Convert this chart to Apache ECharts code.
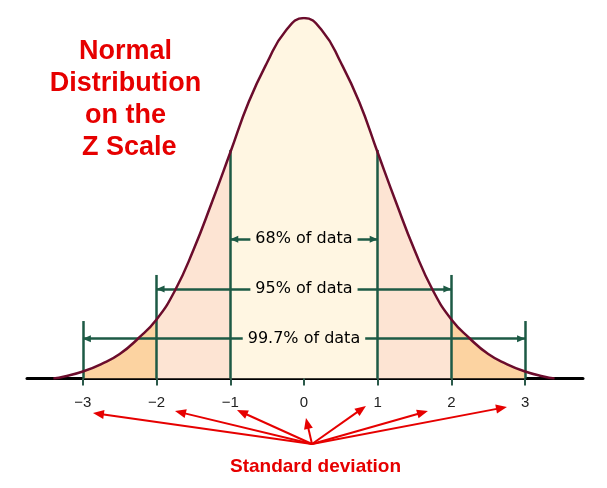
<!DOCTYPE html>
<html><head><meta charset="utf-8">
<script src="https://cdn.jsdelivr.net/npm/echarts@6/dist/echarts.min.js"></script>
<style>html,body{margin:0;padding:0;background:#fff}#c{width:607px;height:488px}</style>
</head><body><div id="c"></div>
<script>
// ---- data ----
const zValues = [-3.4,-3.25,-3,-2.75,-2.5,-2.25,-2,-1.75,-1.5,-1.25,-1,-0.75,-0.5,-0.25,0,0.25,0.5,0.75,1,1.25,1.5,1.75,2,2.25,2.5,2.75,3,3.25,3.4];
const curveDensity = [0,0.0022,0.0077,0.0160,0.0271,0.0443,0.0653,0.0974,0.1422,0.1948,0.2501,0.3060,0.3497,0.3846,0.399,0.3846,0.3497,0.3060,0.2501,0.1948,0.1422,0.0974,0.0653,0.0443,0.0271,0.0160,0.0077,0.0022,0];
const tickValues = [-3,-2,-1,0,1,2,3];
const bandEdges = [-3,-2,-1,1,2,3];
const guideTops = [0.0636,0.1146,0.2530,0.2530,0.1146,0.0636];
const coverageLabels = ['68% of data','95% of data','99.7% of data'];
const coverageHalfWidths = [1,2,3];
const coverageLevels = [0.1541,0.0991,0.0441];
const titleText = 'Normal\nDistribution\non the\n Z Scale';
const axisCaption = 'Standard deviation';

// ---- styles ----
const CREAM = '#fff6e2', PEACH = '#fde4d3', ORANGE = '#fcd3a1';
const MAROON = '#6b0c2c', GREEN = '#1d5a45', RED = '#e60000';

const pts = zValues.map((z, i) => [z, curveDensity[i]]);
function band(a, b) { return pts.filter(p => p[0] >= a - 1e-9 && p[0] <= b + 1e-9); }
function fill(a, b, color) {
  return { type: 'line', data: band(a, b), smooth: true, symbol: 'none', silent: true,
    lineStyle: { width: 0, opacity: 0 }, areaStyle: { color: color, opacity: 1 }, z: 1 };
}

const chart = echarts.init(document.getElementById('c'), null, { renderer: 'canvas' });
chart.setOption({
  animation: false,
  backgroundColor: '#ffffff',
  grid: { left: 27, right: 24, top: 18, bottom: 109.5, containLabel: false, outerBoundsMode: 'none' },
  xAxis: {
    type: 'value', min: -3.758, max: 3.786,
    splitLine: { show: false },
    axisLine: { onZero: false, lineStyle: { color: '#000', width: 3 } },
    axisTick: { customValues: tickValues, length: 7, lineStyle: { color: '#2b5a4a', width: 2 } },
    axisLabel: { customValues: tickValues, margin: 17, fontSize: 15, color: '#222',
      fontFamily: 'Liberation Sans, Arial, sans-serif',
      formatter: v => (v < 0 ? '\u2212' + Math.abs(v) : String(v)) }
  },
  yAxis: { type: 'value', min: 0, max: 0.399, show: false },
  series: [
    fill(-3, -2, ORANGE), fill(-2, -1, PEACH), fill(-1, 1, CREAM), fill(1, 2, PEACH), fill(2, 3, ORANGE),
    {
      type: 'scatter', data: [[0, 0]], symbolSize: 0, silent: true, z: 3,
      markLine: {
        silent: true, symbol: 'none', animation: false,
        lineStyle: { color: GREEN, width: 2.5, type: 'solid' },
        label: { show: false },
        data: bandEdges.map((x, i) => [{ coord: [x, 0] }, { coord: [x, guideTops[i]] }])
      }
    },
    {
      type: 'line', data: pts, smooth: true, symbol: 'none', silent: true, z: 5,
      lineStyle: { color: MAROON, width: 2.5 }
    },
    {
      type: 'scatter', data: [[0, 0]], symbolSize: 0, silent: true, z: 6,
      markLine: {
        silent: true, animation: false,
        symbol: ['triangle', 'triangle'], symbolSize: [7, 8], symbolOffset: [[0, 4], [0, 4]],
        lineStyle: { color: GREEN, width: 2.5, type: 'solid' },
        data: coverageLabels.map((t, i) => [
          { coord: [-coverageHalfWidths[i], coverageLevels[i]],
            label: { show: true, position: 'insideMiddle', formatter: t, color: '#000',
              fontSize: 16, fontFamily: 'DejaVu Sans, sans-serif', backgroundColor: CREAM, padding: [2, 5] } },
          { coord: [coverageHalfWidths[i], coverageLevels[i]] }
        ])
      }
    }
  ],
  graphic: [
    { id: 'title', type: 'text', x: 125.5, y: 99.5, silent: true,
      style: { text: titleText, fill: RED, font: 'bold 27px "Liberation Sans", Arial, sans-serif',
        lineHeight: 32.3, textAlign: 'center', textVerticalAlign: 'middle' } },
    { id: 'caption', type: 'text', x: 315.5, y: 467, silent: true,
      style: { text: axisCaption, fill: RED, font: 'bold 19px "Liberation Sans", Arial, sans-serif',
        textAlign: 'center', textVerticalAlign: 'middle' } }
  ]
});

// annotation arrows: from a common point below the axis toward each tick label
const arrowOrigin = [0.109, -0.0725];
const arrowTips = [[-2.863,-0.0382],[-1.750,-0.0360],[-0.909,-0.0349],[0.027,-0.0437],[0.841,-0.0304],[1.682,-0.0360],[2.754,-0.0315]];
const o = chart.convertToPixel({ gridIndex: 0 }, arrowOrigin);
const arrows = [];
arrowTips.forEach((t, i) => {
  const p = chart.convertToPixel({ gridIndex: 0 }, t);
  const dx = p[0] - o[0], dy = p[1] - o[1], len = Math.hypot(dx, dy);
  const ux = dx / len, uy = dy / len, nx = -uy, ny = ux;
  const L = 11, W = 4.5;
  const bx = p[0] - ux * L, by = p[1] - uy * L;
  arrows.push({ id: 'al' + i, type: 'line', silent: true, z: 10,
    shape: { x1: o[0], y1: o[1], x2: bx + ux * 2, y2: by + uy * 2 },
    style: { stroke: RED, lineWidth: 2 } });
  arrows.push({ id: 'ah' + i, type: 'polygon', silent: true, z: 10,
    shape: { points: [[p[0], p[1]], [bx + nx * W, by + ny * W], [bx - nx * W, by - ny * W]] },
    style: { fill: RED } });
});
chart.setOption({ graphic: arrows });
</script></body></html>
